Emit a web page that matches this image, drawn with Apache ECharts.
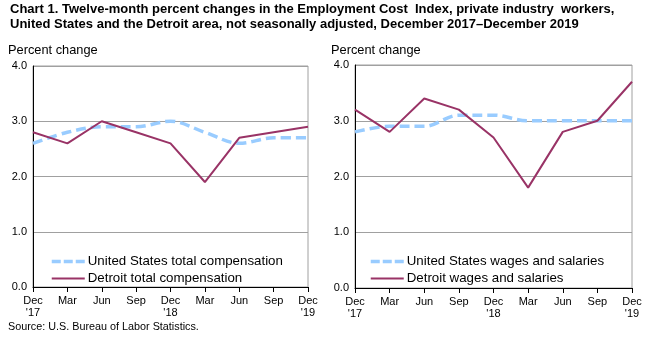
<!DOCTYPE html>
<html><head><meta charset="utf-8">
<script src="https://cdn.jsdelivr.net/npm/echarts@6/dist/echarts.min.js"></script>
<style>html,body{margin:0;padding:0;background:#fff}#c{width:653px;height:339px}</style>
</head><body><div id="c"></div>
<script>
const categories = ["Dec\n'17","Mar","Jun","Sep","Dec\n'18","Mar","Jun","Sep","Dec\n'19"];
const usTotalComp = [2.6, 2.8, 2.9, 2.9, 3.0, 2.8, 2.6, 2.7, 2.7];
const detroitTotalComp = [2.8, 2.6, 3.0, 2.8, 2.6, 1.9, 2.7, 2.8, 2.9];
const usWages = [2.8, 2.9, 2.9, 3.1, 3.1, 3.0, 3.0, 3.0, 3.0];
const detroitWages = [3.2, 2.8, 3.4, 3.2, 2.7, 1.8, 2.8, 3.0, 3.7];
const yTicks = [0, 1, 2, 3, 4];

const FONT = '"Liberation Sans", Arial, sans-serif';
const BLUE = '#99ccff', MAROON = '#993366';
const chart = echarts.init(document.getElementById('c'), null, {renderer:'canvas'});

function xAxis(i){
  return {type:'category', gridIndex:i, data:categories, boundaryGap:false,
    axisLine:{lineStyle:{color:'#000',width:1}},
    axisTick:{show:true, length:5, lineStyle:{color:'#000'}},
    axisLabel:{color:'#000', fontFamily:FONT, fontSize:11, margin:8, lineHeight:12, interval:0},
    splitLine:{show:false}};
}
function yAxis(i){
  return {type:'value', gridIndex:i, min:yTicks[0], max:yTicks[yTicks.length-1], interval:1,
    axisLine:{show:true, lineStyle:{color:'#000',width:1}},
    axisTick:{show:false},
    axisLabel:{color:'#000', fontFamily:FONT, fontSize:11, margin:6, formatter:v=>v.toFixed(1)},
    splitLine:{show:true, lineStyle:{color:'#a0a0a0', width:1}}};
}
function dashed(name, data, i){
  return {name, type:'line', xAxisIndex:i, yAxisIndex:i, data, smooth:0.35, symbol:'none',
    lineStyle:{color:BLUE, width:3.5, type:[10,5]}, itemStyle:{color:BLUE}, z:2};
}
function solid(name, data, i){
  return {name, type:'line', xAxisIndex:i, yAxisIndex:i, data, symbol:'none',
    lineStyle:{color:MAROON, width:2}, itemStyle:{color:MAROON}, z:3};
}
function legend(names, left){
  return {data:[{name:names[0], lineStyle:{type:[9,3], width:3.5}}, {name:names[1]}],
    orient:'vertical', left, top:255, itemWidth:33, itemHeight:3, itemGap:4,
    itemStyle:{opacity:0},
    textStyle:{color:'#000', fontFamily:FONT, fontSize:13.3, padding:[0,0,0,-2]}, selectedMode:false, padding:0};
}
function txt(text, left, top, size, weight){
  return {text, left, top, padding:0, textStyle:{fontFamily:FONT, fontSize:size, fontWeight:weight, color:'#000', lineHeight:size===13?15:undefined}};
}

chart.setOption({
  animation:false,
  textStyle:{fontFamily:FONT},
  title:[
    txt('Chart 1. Twelve-month percent changes in the Employment Cost  Index, private industry  workers,\nUnited States and the Detroit area, not seasonally adjusted, December 2017\u2013December 2019', 10, 2, 13, 'bold'),
    txt('Percent change', 8, 44, 12.8, 'normal'),
    txt('Percent change', 331, 44, 12.8, 'normal'),
    txt('Source: U.S. Bureau of Labor Statistics.', 8, 322, 10.8, 'normal')
  ],
  grid:[
    {left:33, right:345, top:66, bottom:52, show:true, borderColor:'#a0a0a0', borderWidth:1, backgroundColor:'transparent'},
    {left:355, right:21, top:65, bottom:51, show:true, borderColor:'#a0a0a0', borderWidth:1, backgroundColor:'transparent'}
  ],
  xAxis:[xAxis(0), xAxis(1)],
  yAxis:[yAxis(0), yAxis(1)],
  legend:[
    legend(['United States total compensation','Detroit total compensation'], 50),
    legend(['United States wages and salaries','Detroit wages and salaries'], 369)
  ],
  series:[
    dashed('United States total compensation', usTotalComp, 0),
    solid('Detroit total compensation', detroitTotalComp, 0),
    dashed('United States wages and salaries', usWages, 1),
    solid('Detroit wages and salaries', detroitWages, 1)
  ]
});
</script></body></html>
